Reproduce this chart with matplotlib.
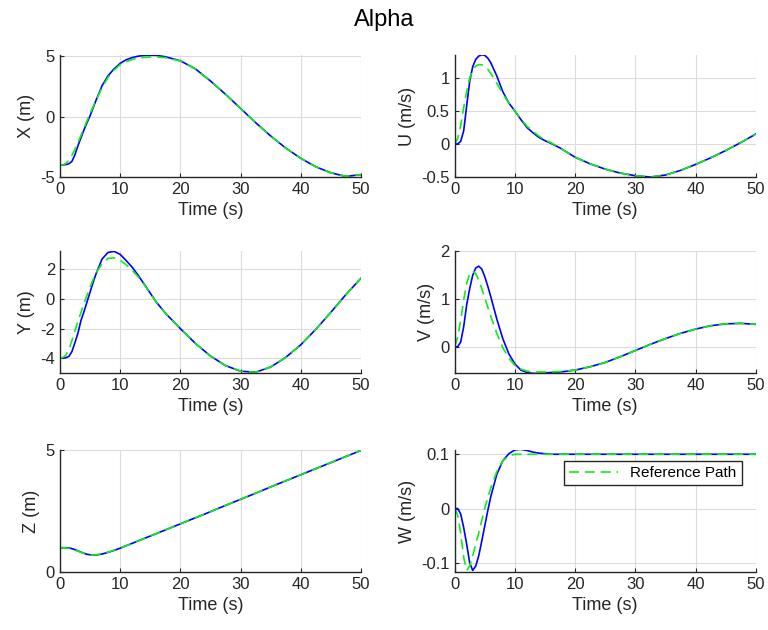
import matplotlib
matplotlib.use("Agg")
import matplotlib.pyplot as plt
from matplotlib.ticker import FormatStrFormatter

plt.rcParams["font.family"] = ["Liberation Sans", "DejaVu Sans"]
plt.rcParams["axes.unicode_minus"] = False

t = [0, 0.5, 1, 1.5, 2, 2.5, 3, 3.5, 4, 4.5, 5, 5.5, 6, 7, 8, 9, 10, 11, 12, 13, 14, 15, 16,
     17.5, 20, 22.5, 25, 27.5, 30, 32.5, 35, 37.5, 40, 42.5, 45, 47.5, 50]

# actual (blue) and reference (green dashed)
x_act = [-4.0, -4.0, -3.97, -3.9, -3.7, -3.15, -2.4, -1.75, -1.1, -0.5, 0.05, 0.7, 1.35, 2.55, 3.38,
         3.95, 4.4, 4.7, 4.88, 5.0, 5.06, 5.08, 5.07, 4.95, 4.62, 3.95, 2.95, 1.85, 0.68, -0.5,
         -1.6, -2.6, -3.45, -4.15, -4.65, -4.95, -4.8]
x_ref = [-4.0, -3.98, -3.88, -3.6, -3.2, -2.7, -2.15, -1.55, -0.95, -0.35, 0.25, 0.8, 1.35, 2.4, 3.25,
         3.85, 4.3, 4.55, 4.72, 4.83, 4.9, 4.93, 4.93, 4.88, 4.6, 3.95, 2.95, 1.85, 0.68, -0.5,
         -1.6, -2.6, -3.45, -4.15, -4.65, -4.95, -4.8]

u_act = [0.0, 0.0, 0.04, 0.2, 0.58, 0.95, 1.17, 1.28, 1.33, 1.35, 1.34, 1.3, 1.23, 1.03, 0.79,
         0.62, 0.5, 0.37, 0.25, 0.17, 0.1, 0.05, 0.01, -0.06, -0.2, -0.3, -0.38, -0.44, -0.48, -0.5,
         -0.47, -0.4, -0.31, -0.21, -0.1, 0.02, 0.15]
u_ref = [0.0, 0.08, 0.28, 0.55, 0.8, 1.0, 1.12, 1.18, 1.2, 1.2, 1.17, 1.13, 1.07, 0.92, 0.76,
         0.62, 0.5, 0.38, 0.27, 0.19, 0.12, 0.06, 0.02, -0.06, -0.2, -0.3, -0.38, -0.44, -0.48, -0.5,
         -0.47, -0.4, -0.31, -0.21, -0.1, 0.02, 0.15]

y_act = [-4.0, -4.0, -3.97, -3.88, -3.55, -2.95, -2.3, -1.45, -0.85, -0.2, 0.45, 1.1, 1.7, 2.7, 3.15,
         3.22, 3.02, 2.6, 2.15, 1.6, 1.0, 0.4, -0.2, -0.95, -2.0, -3.0, -3.85, -4.5, -4.88, -4.95,
         -4.6, -3.95, -3.1, -2.05, -0.9, 0.3, 1.4]
y_ref = [-4.0, -3.95, -3.8, -3.4, -2.8, -2.15, -1.5, -0.9, -0.3, 0.25, 0.8, 1.3, 1.75, 2.4, 2.75,
         2.78, 2.62, 2.32, 1.95, 1.5, 0.97, 0.38, -0.2, -0.95, -2.0, -3.0, -3.85, -4.5, -4.88, -4.95,
         -4.6, -3.95, -3.1, -2.05, -0.9, 0.3, 1.4]

v_act = [0.0, 0.0, 0.1, 0.42, 0.88, 1.22, 1.5, 1.65, 1.69, 1.63, 1.47, 1.27, 1.05, 0.58, 0.17,
         -0.15, -0.36, -0.49, -0.54, -0.56, -0.56, -0.55, -0.54, -0.53, -0.49, -0.42, -0.33, -0.21,
         -0.08, 0.05, 0.17, 0.28, 0.37, 0.44, 0.48, 0.49, 0.47]
v_ref = [0.0, 0.2, 0.55, 0.98, 1.33, 1.53, 1.59, 1.53, 1.4, 1.22, 1.03, 0.83, 0.64, 0.28, -0.02,
         -0.24, -0.39, -0.47, -0.51, -0.53, -0.53, -0.53, -0.53, -0.52, -0.49, -0.42, -0.33, -0.21,
         -0.08, 0.05, 0.17, 0.28, 0.37, 0.44, 0.48, 0.49, 0.47]

z_act = [1.0, 1.0, 1.0, 0.99, 0.96, 0.92, 0.87, 0.82, 0.77, 0.73, 0.71, 0.7, 0.7, 0.74, 0.81,
         0.89, 0.98, 1.08, 1.18, 1.28, 1.38, 1.48, 1.58, 1.73, 1.98, 2.23, 2.48, 2.74, 2.99, 3.24,
         3.5, 3.75, 4.0, 4.25, 4.5, 4.75, 5.0]
z_ref = [1.0, 1.0, 0.99, 0.97, 0.94, 0.9, 0.86, 0.81, 0.77, 0.73, 0.71, 0.7, 0.71, 0.75, 0.82,
         0.9, 0.99, 1.08, 1.18, 1.28, 1.38, 1.48, 1.58, 1.73, 1.98, 2.23, 2.48, 2.74, 2.99, 3.24,
         3.5, 3.75, 4.0, 4.25, 4.5, 4.75, 5.0]

w_act = [0.0, 0.0, -0.01, -0.035, -0.066, -0.1, -0.114, -0.106, -0.087, -0.06, -0.032, -0.004, 0.022,
         0.063, 0.088, 0.101, 0.108, 0.109, 0.107, 0.104, 0.102, 0.101, 0.1, 0.1, 0.1, 0.1, 0.1,
         0.1, 0.1, 0.1, 0.1, 0.1, 0.1, 0.1, 0.1, 0.1, 0.1]
w_ref = [0.0, -0.012, -0.045, -0.09, -0.114, -0.106, -0.087, -0.066, -0.045, -0.022, 0.0, 0.02, 0.038,
         0.068, 0.088, 0.097, 0.1, 0.1, 0.1, 0.1, 0.1, 0.1, 0.1, 0.1, 0.1, 0.1, 0.1,
         0.1, 0.1, 0.1, 0.1, 0.1, 0.1, 0.1, 0.1, 0.1, 0.1]

panels = [
    ("X (m)", x_act, x_ref, (-5, 5.06), [-5, 0, 5]),
    ("U (m/s)", u_act, u_ref, (-0.5, 1.34), [-0.5, 0, 0.5, 1]),
    ("Y (m)", y_act, y_ref, (-5.0, 3.22), [-4, -2, 0, 2]),
    ("V (m/s)", v_act, v_ref, (-0.55, 2.0), [0, 1, 2]),
    ("Z (m)", z_act, z_ref, (0, 5), [0, 5]),
    ("W (m/s)", w_act, w_ref, (-0.117, 0.107), [-0.1, 0, 0.1]),
]

fig = plt.figure(figsize=(7.68, 6.3), dpi=100)
lefts = [0.078, 0.592]
bottoms = [0.719, 0.408, 0.092]
dark = "#262626"

for i, (lab, act, ref, ylim, yt) in enumerate(panels):
    ax = fig.add_axes([lefts[i % 2], bottoms[i // 2], 0.392, 0.193])
    ax.plot(t, act, color="#0000ff", lw=1.2)
    ax.plot(t, ref, color="#11ee11", lw=1.2, ls=(0, (6, 3.5)), label="Reference Path")
    ax.set_xlim(0, 50)
    ax.set_ylim(*ylim)
    ax.set_xticks(range(0, 51, 10))
    ax.set_yticks(yt)
    ax.yaxis.set_major_formatter(FormatStrFormatter("%g"))
    ax.grid(True, color="#dcdcdc", lw=0.8)
    ax.set_axisbelow(True)
    for s in ["top", "right"]:
        ax.spines[s].set_visible(False)
    for s in ["left", "bottom"]:
        ax.spines[s].set_color(dark)
        ax.spines[s].set_linewidth(1.0)
    ax.tick_params(direction="in", length=3, colors=dark, labelsize=12, labelcolor=dark)
    ax.set_xlabel("Time (s)", fontsize=13, color=dark)
    ax.set_ylabel(lab, fontsize=13, color=dark)
    if i == 5:
        h = ax.get_lines()[1]
        leg = ax.legend([h], ["Reference Path"], loc="upper right",
                        bbox_to_anchor=(0.954, 0.915), borderaxespad=0,
                        fancybox=False, framealpha=1, edgecolor=dark,
                        fontsize=11, handlelength=3.2, borderpad=0.35)
        leg.get_frame().set_linewidth(1.0)

fig.suptitle("Alpha", fontsize=17, y=0.985)
fig.savefig("out.png", dpi=100)
